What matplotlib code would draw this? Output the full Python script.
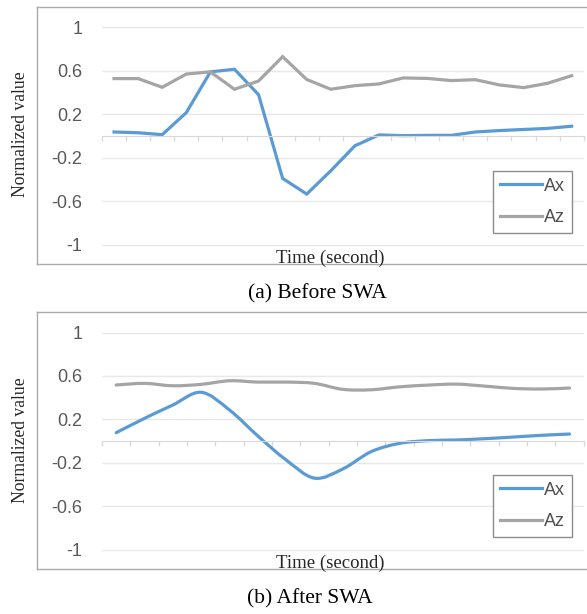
import numpy as np
import matplotlib.pyplot as plt
from matplotlib.path import Path
from matplotlib.patches import PathPatch
from matplotlib.lines import Line2D

# (a) before SWA, 20 samples
before_ax = [0.037, 0.03, 0.012, 0.215, 0.59, 0.614, 0.38, -0.39, -0.534, -0.32,
             -0.09, 0.01, 0.003, 0.006, 0.006, 0.037, 0.05, 0.06, 0.07, 0.09]
before_az = [0.528, 0.528, 0.448, 0.57, 0.59, 0.43, 0.506, 0.73, 0.52, 0.43,
             0.463, 0.479, 0.534, 0.53, 0.51, 0.518, 0.47, 0.445, 0.485, 0.555]
# (b) after SWA, 17 samples
after_ax = [0.078, 0.21, 0.333, 0.45, 0.287, 0.048, -0.173, -0.34, -0.255,
            -0.096, -0.02, 0.005, 0.011, 0.023, 0.038, 0.054, 0.066]
after_az = [0.517, 0.532, 0.51, 0.523, 0.556, 0.544, 0.544, 0.532, 0.477,
            0.473, 0.50, 0.516, 0.525, 0.507, 0.486, 0.48, 0.489]
yticks = [-1, -0.6, -0.2, 0.2, 0.6, 1]
series_names = ['Ax', 'Az']

blue = '#5B9BD5'
grey = '#A5A5A5'
W, H = 587, 614

plt.rcParams['font.family'] = ['Liberation Sans', 'DejaVu Sans']
fig = plt.figure(figsize=(W / 100, H / 100), dpi=100)


def smooth_path(y):
    # excel style smoothed line: bezier segments through the data points
    x = np.arange(len(y))
    y = np.asarray(y, float)
    verts = [(x[0], y[0])]
    codes = [Path.MOVETO]
    for i in range(len(y) - 1):
        a = max(i - 1, 0)
        b = min(i + 2, len(y) - 1)
        verts.append((x[i] + (x[i + 1] - x[a]) / 6, y[i] + (y[i + 1] - y[a]) / 6))
        verts.append((x[i + 1] - (x[b] - x[i]) / 6, y[i + 1] - (y[b] - y[i]) / 6))
        verts.append((x[i + 1], y[i + 1]))
        codes += [Path.CURVE4] * 3
    return Path(verts, codes)


def panel(y0px, ax_vals, az_vals, smooth, caption, leg_y):
    # y0px = pixel row of value 0, 108.7 px per unit
    top = 1 - (y0px - 1.1 * 108.7) / H
    bottom = 1 - (y0px + 1.1 * 108.7) / H
    ax = fig.add_axes([102 / W, bottom, 481.7 / W, top - bottom])
    n = len(ax_vals)
    if smooth:
        for vals, c in [(ax_vals, blue), (az_vals, grey)]:
            ax.add_patch(PathPatch(smooth_path(vals), fill=False, edgecolor=c,
                                   lw=2.3, capstyle='round', joinstyle='round'))
    else:
        ax.plot(range(n), ax_vals, color=blue, lw=2.3, solid_joinstyle='miter')
        ax.plot(range(n), az_vals, color=grey, lw=2.3, solid_joinstyle='miter')
    ax.set_xlim(-0.5, n - 0.5)
    ax.set_ylim(-1.1, 1.1)
    ax.set_yticks(yticks)
    ax.set_yticklabels([f'{v:g}' for v in yticks])
    ax.tick_params(axis='y', length=0, pad=14, labelsize=13, labelcolor='#595959')
    ax.set_xticks(np.arange(n + 1) - 0.5)
    ax.set_xticklabels([])
    ax.tick_params(axis='x', length=3.5, color='#D9D9D9', width=1)
    ax.grid(axis='y', color='#E8E8E8', lw=1)
    ax.set_axisbelow(True)
    for s in ['top', 'right', 'left']:
        ax.spines[s].set_visible(False)
    ax.spines['bottom'].set_position(('data', 0))
    ax.spines['bottom'].set_color('#D9D9D9')
    ax.patch.set_alpha(0)

    handles = [Line2D([], [], color=blue, lw=2.3), Line2D([], [], color=grey, lw=2.3)]
    leg = ax.legend(handles, series_names, loc='center', bbox_to_anchor=(0.894, leg_y),
                    fontsize=13, frameon=True, fancybox=False, framealpha=1,
                    edgecolor='#8C8C8C', handlelength=2.3, handletextpad=0.1,
                    labelspacing=0.8, borderpad=0.4, borderaxespad=0, labelcolor='#505050')
    leg.get_frame().set_linewidth(1)

    # chart frame
    ft = 1 - (y0px - 129) / H
    fb = 1 - (y0px + 128) / H
    for xs, ys in [([37 / W, 1], [ft, ft]), ([37 / W, 1], [fb, fb]), ([37 / W, 37 / W], [fb, ft])]:
        fig.add_artist(Line2D(xs, ys, color='#ABABAB', lw=1))

    fig.text(21 / W, 1 - (y0px - 1.5) / H, 'Normalized value', rotation=90,
             ha='center', va='center', fontsize=12.7, family='Liberation Serif', color='#262626')
    fig.text(330 / W, 1 - (y0px + 122) / H, 'Time (second)', ha='center', va='center',
             fontsize=13.5, family='Liberation Serif', color='#262626')
    fig.text(caption[1] / W, 1 - (y0px + 158) / H, caption[0], ha='center', va='center',
             fontsize=15.5, family='Liberation Serif', color='black')
    return ax


panel(136, before_ax, before_az, False, ('(a) Before SWA', 317.5), 0.224)
panel(441.2, after_ax, after_az, True, ('(b) After SWA', 310), 0.229)

plt.savefig('out.png', dpi=100)
